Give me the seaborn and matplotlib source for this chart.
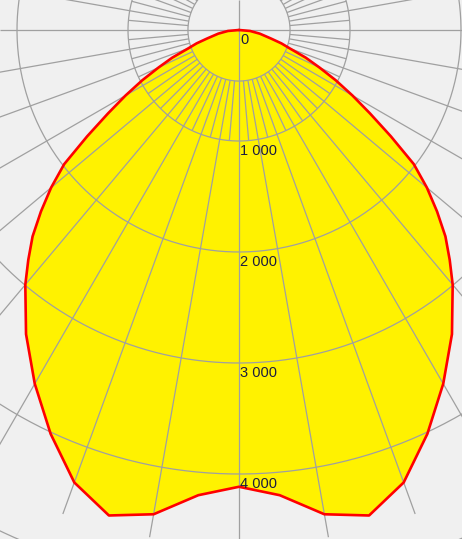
import numpy as np
import pandas as pd
import matplotlib.pyplot as plt
import seaborn as sns

# luminous intensity (cd) vs angle from nadir, one half (curve is symmetric)
gamma_deg = [0, 5, 10, 15, 20, 25, 30, 35, 40, 42.5, 45, 47.5, 50, 52.5,
             55, 57.5, 60, 62.5, 65, 67.5, 70, 72.5, 75, 80, 85, 90]
intensity_cd = [4115, 4207, 4430, 4528, 4338, 4015, 3680, 3345, 2995, 2810,
                2630, 2420, 2210, 1985, 1670, 1400, 1180, 985, 800, 650,
                490, 400, 300, 190, 100, 0]

ring_values = [460, 1000, 2000, 3000, 4000, 5000]
label_values = [0, 1000, 2000, 3000, 4000]
label_texts = ['0', '1 000', '2 000', '3 000', '4 000']

sns.set_style('white')
plt.rcParams['font.family'] = ['Liberation Sans', 'DejaVu Sans']

g = np.radians(np.array(gamma_deg))
I = np.array(intensity_cd, dtype=float)
full_g = np.concatenate([-g[::-1], g[1:]])
full_I = np.concatenate([I[::-1], I[1:]])
curve = pd.DataFrame({'x': full_I * np.sin(full_g), 'y': -full_I * np.cos(full_g)})

px = 1000 / 111.0  # cd per pixel
fig = plt.figure(figsize=(4.62, 5.39), dpi=100, facecolor='#f0f0f0')
ax = fig.add_axes([0, 0, 1, 1])
ax.set_facecolor('#f0f0f0')
ax.set_xlim(-239 * px, (462 - 239) * px)
ax.set_ylim(-(539 - 30) * px, 30 * px)
ax.axis('off')

grid_kw = dict(color='#a0a0a0', lw=0.9, zorder=2, solid_capstyle='butt')

# fill
ax.fill(curve['x'], curve['y'], color='#fff200', lw=0, zorder=1)

# rings
t = np.linspace(0, 2 * np.pi, 721)
for r in ring_values:
    ax.plot(r * np.sin(t), r * np.cos(t), **grid_kw)

# spokes
ax.axhline(0, **grid_kw)
ax.axvline(0, **grid_kw)
for a in range(0, 360, 10):
    if a % 90 == 0:
        continue
    ar = np.radians(a)
    ax.plot([460 * np.sin(ar), 4640 * np.sin(ar)],
            [-460 * np.cos(ar), -4640 * np.cos(ar)], **grid_kw)
for a in range(5, 360, 10):
    ar = np.radians(a)
    ax.plot([460 * np.sin(ar), 1000 * np.sin(ar)],
            [-460 * np.cos(ar), -1000 * np.cos(ar)], **grid_kw)

# outline
sns.lineplot(data=curve, x='x', y='y', sort=False, estimator=None,
             color='#ff0000', lw=1.9, ax=ax, zorder=3)
ax.set_xlabel('')
ax.set_ylabel('')

for v, s in zip(label_values, label_texts):
    ax.text(10, -v - 30, s, ha='left', va='top', fontsize=10.5,
            color='#1c1c40', zorder=4)

fig.savefig('out.png', dpi=100, facecolor=fig.get_facecolor())
